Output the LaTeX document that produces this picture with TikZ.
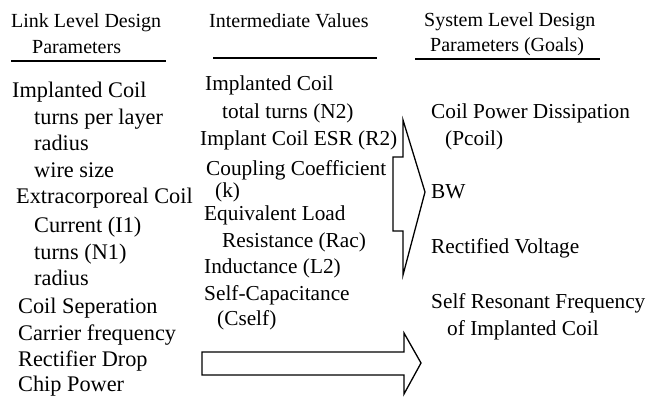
\documentclass[tikz,border=0pt]{standalone}
\usepackage{fontspec}
\setmainfont{Liberation Serif}
\begin{document}
\begin{tikzpicture}[x=1pt,y=-1pt,
  hdr/.style={anchor=base west,inner sep=0pt,font=\fontsize{20}{24}\selectfont},
  txt/.style={anchor=base west,inner sep=0pt,font=\fontsize{21.3}{25}\selectfont},
  txtl/.style={anchor=base west,inner sep=0pt,font=\fontsize{22.3}{26}\selectfont},
  rule/.style={line width=1.3pt},
  fat/.style={draw,line width=1.3pt,line join=miter,fill=white}]
\useasboundingbox (0,0) rectangle (647,396);
% headers
\node[hdr] (h1a) at (11,28) {Link Level Design};
\node[hdr] (h1b) at (32,53) {Parameters};
\node[hdr] (h2a) at (209,28) {Intermediate Values};
\node[hdr] (h3a) at (424,27) {System Level Design};
\node[hdr] (h3b) at (430,52) {Parameters (Goals)};
\draw[rule] (11,61) coordinate (u1l) -- (166,61) coordinate (u1r);
\draw[rule] (213,58) coordinate (u2l) -- (377,58) coordinate (u2r);
\draw[rule] (415,59) coordinate (u3l) -- (600,59) coordinate (u3r);
% column 1
\node[txtl] (c1a) at (12,97) {Implanted Coil};
\node[txtl] (c1b) at (34,124) {turns per layer};
\node[txtl] (c1c) at (34,150) {radius};
\node[txtl] (c1d) at (34,177) {wire size};
\node[txtl] (c1e) at (16,203) {Extracorporeal Coil};
\node[txtl] (c1f) at (34,232) {Current (I1)};
\node[txtl] (c1g) at (34,259) {turns (N1)};
\node[txtl] (c1h) at (34,285) {radius};
\node[txtl] (c1i) at (18,313) {Coil Seperation};
\node[txtl] (c1j) at (18,340) {Carrier frequency};
\node[txtl] (c1k) at (18,366) {Rectifier Drop};
\node[txtl] (c1l) at (18,391) {Chip Power};
% column 2
\node[txt] (c2a) at (205,90) {Implanted Coil};
\node[txt] (c2b) at (222,118) {total turns (N2)};
\node[txt] (c2c) at (200,145) {Implant Coil ESR (R2)};
\node[txt] (c2d) at (206,175) {Coupling Coefficient};
\node[txt] (c2e) at (215,197) {(k)};
\node[txt] (c2f) at (204,220) {Equivalent Load};
\node[txt] (c2g) at (222,247) {Resistance (Rac)};
\node[txt] (c2h) at (204,273) {Inductance (L2)};
\node[txt] (c2i) at (204,300) {Self-Capacitance};
\node[txt] (c2j) at (217,325) {(Cself)};
% column 3
\node[txt] (c3a) at (431,118) {Coil Power Dissipation};
\node[txt] (c3b) at (445,145) {(Pcoil)};
\node[txt] (c3c) at (431,198) {BW};
\node[txt] (c3d) at (431,253) {Rectified Voltage};
\node[txt] (c3e) at (431,308) {Self Resonant Frequency};
\node[txt] (c3f) at (447,335) {of Implanted Coil};
% block arrows
\draw[fat] (393,157) -- (403,157) -- (403,120) -- (425,192) -- (403,275)
  -- (403,231) -- (393,231) -- cycle;
\draw[fat] (202,352) -- (404,352) -- (404,333) -- (421,363) -- (404,394)
  -- (404,375) -- (202,375) -- cycle;
\end{tikzpicture}
\end{document}
